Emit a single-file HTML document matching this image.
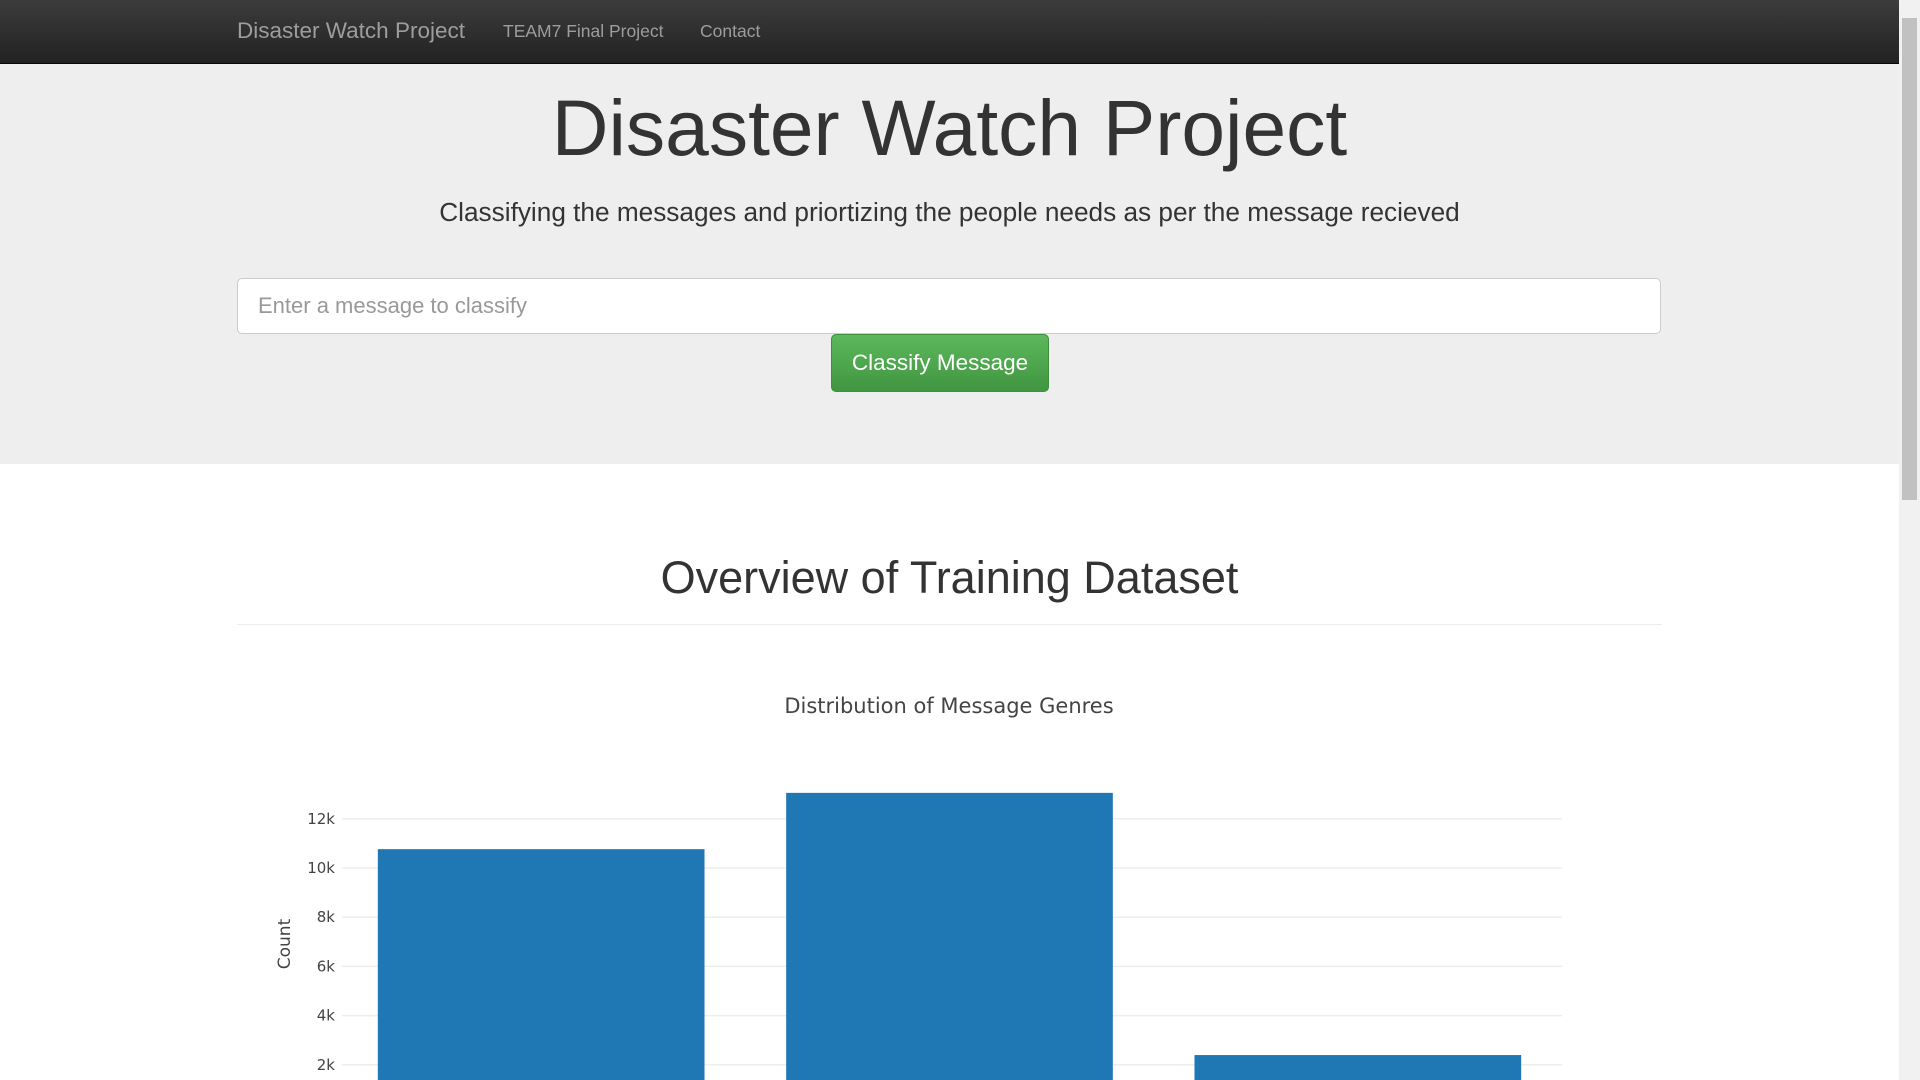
<!DOCTYPE html>
<html><head><meta charset="utf-8"><style>
body{margin:0;width:1920px;height:1080px;overflow:hidden;font-family:"Liberation Sans",sans-serif;background:#fff;position:relative}
.nav{position:absolute;left:0;top:0;width:1899px;height:63px;background:linear-gradient(#3c3c3c,#222);border-bottom:1px solid #080808}
.nav span{position:absolute;color:#9d9d9d;top:0;line-height:62px}
.jumbo{position:absolute;left:0;top:64px;width:1899px;height:400px;background:#eee}
.scroll{position:absolute;right:0;top:0;width:21px;height:1080px;background:#f1f1f1}
.thumb{position:absolute;right:3px;top:18px;width:15px;height:482px;background:#c1c1c1}
</style></head><body>
<div class="nav">
<span style="left:237px;font-size:22.5px">Disaster Watch Project</span>
<span style="left:503px;font-size:17.5px">TEAM7 Final Project</span>
<span style="left:700px;font-size:17.5px">Contact</span>
</div>
<div class="jumbo">
<div style="position:absolute;left:0;width:1899px;top:14px;text-align:center;font-size:78.5px;color:#333;line-height:100px">Disaster Watch Project</div>
<div style="position:absolute;left:0;width:1899px;top:133px;text-align:center;font-size:26.2px;color:#333">Classifying the messages and priortizing the people needs as per the message recieved</div>
<div style="position:absolute;left:237px;top:214px;width:1424px;height:56px;background:#fff;border:1px solid #ccc;border-radius:5px;box-sizing:border-box;padding-left:20px;line-height:54px;font-size:22px;color:#999">Enter a message to classify</div>
<div style="position:absolute;left:831px;top:270px;width:218px;height:58px;background:linear-gradient(#5cb85c,#419641);border:1px solid #3e8f3e;border-radius:5px;box-sizing:border-box;color:#fff;font-size:22.5px;text-align:center;line-height:56px">Classify Message</div>
</div>
<div style="position:absolute;left:0;width:1899px;top:550px;text-align:center;font-size:45px;color:#333;line-height:56px">Overview of Training Dataset</div>
<div style="position:absolute;left:237px;top:624px;width:1425px;height:1px;background:#eee"></div>
<svg id="chart" width="1899" height="1080" style="position:absolute;left:0;top:0"></svg>
<div class="scroll"><div class="thumb"></div></div>
<script>
const categories=["direct","news","social"];
const counts=[10766,13054,2396];
const tickValues=[2000,4000,6000,8000,10000,12000];
const tickLabels=["2k","4k","6k","8k","10k","12k"];
const NS="http://www.w3.org/2000/svg";
const svg=document.getElementById('chart');
const x0=337,x1=1562,y0=1114,pxPer=49.2/2000;
const y=v=>y0-v*pxPer;
const band=(x1-x0)/categories.length;
const xs=i=>x0+band*i;
function mk(t,a){const e=document.createElementNS(NS,t);for(const k in a)e.setAttribute(k,a[k]);svg.appendChild(e);return e;}
tickValues.forEach((v,i)=>{
 const g=mk('line',{x1:342,x2:x1,y1:y(v),y2:y(v),stroke:'#eee','stroke-width':1.5});
 
 
 const t=mk('text',{x:335,y:y(v)+5,'text-anchor':'end','font-size':15,fill:'#444','font-family':'DejaVu Sans, sans-serif'});
 t.textContent=tickLabels[i];
 
 
});
categories.forEach((c,i)=>{
 const r=mk('rect',{x:xs(i)+band*0.1,y:y(counts[i]),width:band*0.8,height:y0-y(counts[i]),fill:'#1f77b4'});
 
 
});
const tt=mk('text',{x:949,y:713,'text-anchor':'middle','font-size':21,fill:'#444','font-family':'DejaVu Sans, sans-serif'});
tt.textContent='Distribution of Message Genres';


const yl=mk('text',{x:0,y:0,transform:'translate(290,944) rotate(-90)','text-anchor':'middle','font-size':17,fill:'#444','font-family':'DejaVu Sans, sans-serif'});
yl.textContent='Count';


</script>
</body></html>
